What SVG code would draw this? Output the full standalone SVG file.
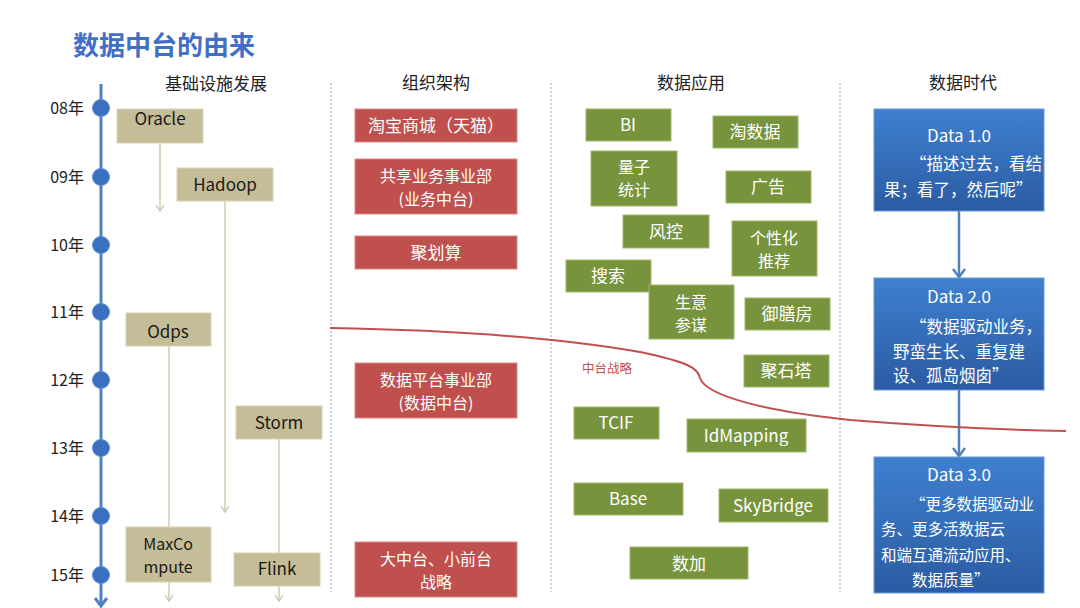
<svg xmlns="http://www.w3.org/2000/svg" width="1080" height="608" viewBox="0 0 1080 608">
<defs>
<style>
text{font-family:"Noto Sans CJK SC","Noto Sans",sans-serif;}
.title{font-size:26px;font-weight:bold;fill:#3f6fc6;}
.hdr{font-size:17px;fill:#222;text-anchor:middle;}
.yr{font-size:16px;fill:#222;text-anchor:end;}
.tan rect{fill:#c4bd97;stroke:#d9d3b8;stroke-width:1;}
.tan text{font-size:17px;fill:#1a1a1a;text-anchor:middle;}
.red rect{fill:#c0504d;stroke:#d98a87;stroke-width:1;}
.red text{font-size:17px;fill:#fff;text-anchor:middle;}
.grn rect{fill:#77933c;stroke:#9fb86a;stroke-width:1;}
.grn text{font-size:17px;fill:#fff;text-anchor:middle;}
.tan .m,.red .m,.grn .m{font-size:16px;}
.blu rect{fill:url(#bg);stroke:#6a9ad8;stroke-width:1;}
.blu text{font-size:16.5px;fill:#fff;}
.blu .h{text-anchor:middle;font-size:17px;}
.blu .s{font-size:15.5px;}
.div{stroke:#8fa9cc;stroke-width:1;stroke-dasharray:2 2;fill:none;}
.tl{stroke:#c9c4a8;stroke-width:1.3;fill:none;marker-end:url(#ta);}
.tn{stroke:#c9c4a8;stroke-width:1.3;fill:none;}
.bl{stroke:#4f81bd;stroke-width:2.5;fill:none;marker-end:url(#ba);}
</style>
<linearGradient id="bg" x1="0" y1="0" x2="0" y2="1">
<stop offset="0" stop-color="#3f80cf"/>
<stop offset="1" stop-color="#2b5ba2"/>
</linearGradient>
<marker id="ta" viewBox="0 0 10 10" refX="9" refY="5" markerWidth="10" markerHeight="10" markerUnits="userSpaceOnUse" orient="auto">
<path d="M3,1 L9,5 L3,9" fill="none" stroke="#c9c4a8" stroke-width="1.3"/>
</marker>
<marker id="ba" viewBox="0 0 14 14" refX="12" refY="7" markerWidth="14" markerHeight="14" markerUnits="userSpaceOnUse" orient="auto">
<path d="M4,1 L12,7 L4,13" fill="none" stroke="#4f81bd" stroke-width="2.5"/>
</marker>
</defs>
<rect width="1080" height="608" fill="#fff"/>
<text class="title" x="73" y="55">数据中台的由来</text>

<g id="headers">
<text class="hdr" x="216" y="90">基础设施发展</text>
<text class="hdr" x="436" y="89">组织架构</text>
<text class="hdr" x="691" y="89">数据应用</text>
<text class="hdr" x="963" y="89">数据时代</text>
</g>

<g id="dividers">
<line class="div" x1="331" y1="83" x2="331" y2="592"/>
<line class="div" x1="551" y1="83" x2="551" y2="592"/>
<line class="div" x1="840" y1="83" x2="840" y2="592"/>
</g>

<g id="timeline">
<line x1="101" y1="84" x2="101" y2="604" stroke="#4f81bd" stroke-width="3"/>
<path d="M95,598 L101,606 L107,598" fill="none" stroke="#4f81bd" stroke-width="3"/>
<g fill="#3a70c0" stroke="#5b8ed2" stroke-width="1">
<circle cx="101" cy="108" r="8.5"/>
<circle cx="101" cy="177" r="8.5"/>
<circle cx="101" cy="245" r="8.5"/>
<circle cx="101" cy="312" r="8.5"/>
<circle cx="101" cy="380" r="8.5"/>
<circle cx="101" cy="448" r="8.5"/>
<circle cx="101" cy="516" r="8.5"/>
<circle cx="101" cy="575" r="8.5"/>
</g>
<text class="yr" x="84" y="114">08年</text>
<text class="yr" x="84" y="183">09年</text>
<text class="yr" x="84" y="251">10年</text>
<text class="yr" x="84" y="318">11年</text>
<text class="yr" x="84" y="386">12年</text>
<text class="yr" x="84" y="454">13年</text>
<text class="yr" x="84" y="522">14年</text>
<text class="yr" x="84" y="581">15年</text>
</g>

<g id="connectors">
<line class="tl" x1="160" y1="143" x2="160" y2="211"/>
<line class="tl" x1="225" y1="201" x2="225" y2="512"/>
<line class="tn" x1="169" y1="346" x2="169" y2="527"/>
<line class="tn" x1="279" y1="439" x2="279" y2="553"/>
<line class="tl" x1="169" y1="582" x2="169" y2="601"/>
<line class="tl" x1="279" y1="586" x2="279" y2="601"/>
<line class="bl" x1="959" y1="211" x2="959" y2="277"/>
<line class="bl" x1="959" y1="390" x2="959" y2="456"/>
<path d="M330,328 C450,330 560,338 640,352 C688,362 698,368 700,378 C706,396 765,411 850,420 C950,428 1010,430 1066,431" fill="none" stroke="#c0504d" stroke-width="2"/>
<text x="582" y="373" font-size="12.5" fill="#c0504d">中台战略</text>
</g>

<g id="oracle" class="tan"><rect x="117" y="109" width="86" height="34"/><text x="160" y="125">Oracle</text></g>
<g id="hadoop" class="tan"><rect x="177" y="168" width="96" height="33"/><text x="225" y="191">Hadoop</text></g>
<g id="odps" class="tan"><rect x="126" y="313" width="85" height="33"/><text x="168" y="338">Odps</text></g>
<g id="storm" class="tan"><rect x="236" y="406" width="86" height="33"/><text x="279" y="429">Storm</text></g>
<g id="maxcompute" class="tan"><rect x="126" y="527" width="85" height="55"/><text class="m" x="168" y="550">MaxCo<tspan x="168" dy="23">mpute</tspan></text></g>
<g id="flink" class="tan"><rect x="234" y="553" width="86" height="33"/><text x="277" y="575">Flink</text></g>

<g id="tmall" class="red"><rect x="355" y="109" width="162" height="33"/><text x="436" y="132">淘宝商城（天猫）</text></g>
<g id="shared" class="red"><rect x="355" y="159" width="162" height="55"/><text class="m" x="436" y="182">共享业务事业部<tspan x="436" dy="23">(业务中台)</tspan></text></g>
<g id="juhuasuan" class="red"><rect x="355" y="236" width="162" height="33"/><text x="436" y="259">聚划算</text></g>
<g id="dataplatform" class="red"><rect x="355" y="363" width="162" height="55"/><text class="m" x="436" y="386">数据平台事业部<tspan x="436" dy="23">(数据中台)</tspan></text></g>
<g id="bigmid" class="red"><rect x="355" y="542" width="162" height="55"/><text class="m" x="436" y="565">大中台、小前台<tspan x="436" dy="23">战略</tspan></text></g>

<g id="bi" class="grn"><rect x="586" y="109" width="85" height="32"/><text x="628" y="131">BI</text></g>
<g id="taoshuju" class="grn"><rect x="713" y="116" width="85" height="32"/><text x="755" y="138">淘数据</text></g>
<g id="liangzi" class="grn"><rect x="591" y="151" width="86" height="55"/><text class="m" x="634" y="173">量子<tspan x="634" dy="23">统计</tspan></text></g>
<g id="guanggao" class="grn"><rect x="726" y="171" width="85" height="32"/><text x="768" y="193">广告</text></g>
<g id="fengkong" class="grn"><rect x="623" y="215" width="86" height="33"/><text x="666" y="238">风控</text></g>
<g id="gexinghua" class="grn"><rect x="732" y="221" width="85" height="55"/><text class="m" x="774" y="244">个性化<tspan x="774" dy="23">推荐</tspan></text></g>
<g id="sousuo" class="grn"><rect x="566" y="260" width="85" height="32"/><text x="608" y="282">搜索</text></g>
<g id="shengyi" class="grn"><rect x="649" y="285" width="85" height="54"/><text class="m" x="691" y="308">生意<tspan x="691" dy="23">参谋</tspan></text></g>
<g id="yushanfang" class="grn"><rect x="745" y="298" width="85" height="32"/><text x="787" y="320">御膳房</text></g>
<g id="jushita" class="grn"><rect x="744" y="355" width="85" height="32"/><text x="786" y="377">聚石塔</text></g>
<g id="tcif" class="grn"><rect x="574" y="407" width="85" height="32"/><text x="616" y="429">TCIF</text></g>
<g id="idmapping" class="grn"><rect x="687" y="419" width="119" height="33"/><text x="746" y="442">IdMapping</text></g>
<g id="base" class="grn"><rect x="574" y="483" width="109" height="32"/><text x="628" y="505">Base</text></g>
<g id="skybridge" class="grn"><rect x="719" y="489" width="109" height="33"/><text x="773" y="512">SkyBridge</text></g>
<g id="shujia" class="grn"><rect x="630" y="547" width="118" height="32"/><text x="689" y="570">数加</text></g>

<g id="data1" class="blu"><rect x="874" y="109" width="170" height="102"/>
<text class="h" x="959" y="142">Data  1.0</text>
<text x="910" y="170">“描述过去，看结<tspan x="884" dy="26">果；看了，然后呢”</tspan></text></g>
<g id="data2" class="blu"><rect x="874" y="278" width="170" height="112"/>
<text class="h" x="959" y="303">Data  2.0</text>
<text x="910" y="333">“数据驱动业务，<tspan x="893" dy="25">野蛮生长、重复建</tspan><tspan x="893" dy="24">设、孤岛烟囱”</tspan></text></g>
<g id="data3" class="blu"><rect x="874" y="457" width="170" height="136"/>
<text class="h" x="959" y="481">Data  3.0</text>
<text class="s" x="910" y="510">“更多数据驱动业<tspan x="881" dy="25">务、更多活数据云</tspan><tspan x="881" dy="26">和端互通流动应用、</tspan><tspan x="912" dy="25">数据质量”</tspan></text></g>
</svg>
